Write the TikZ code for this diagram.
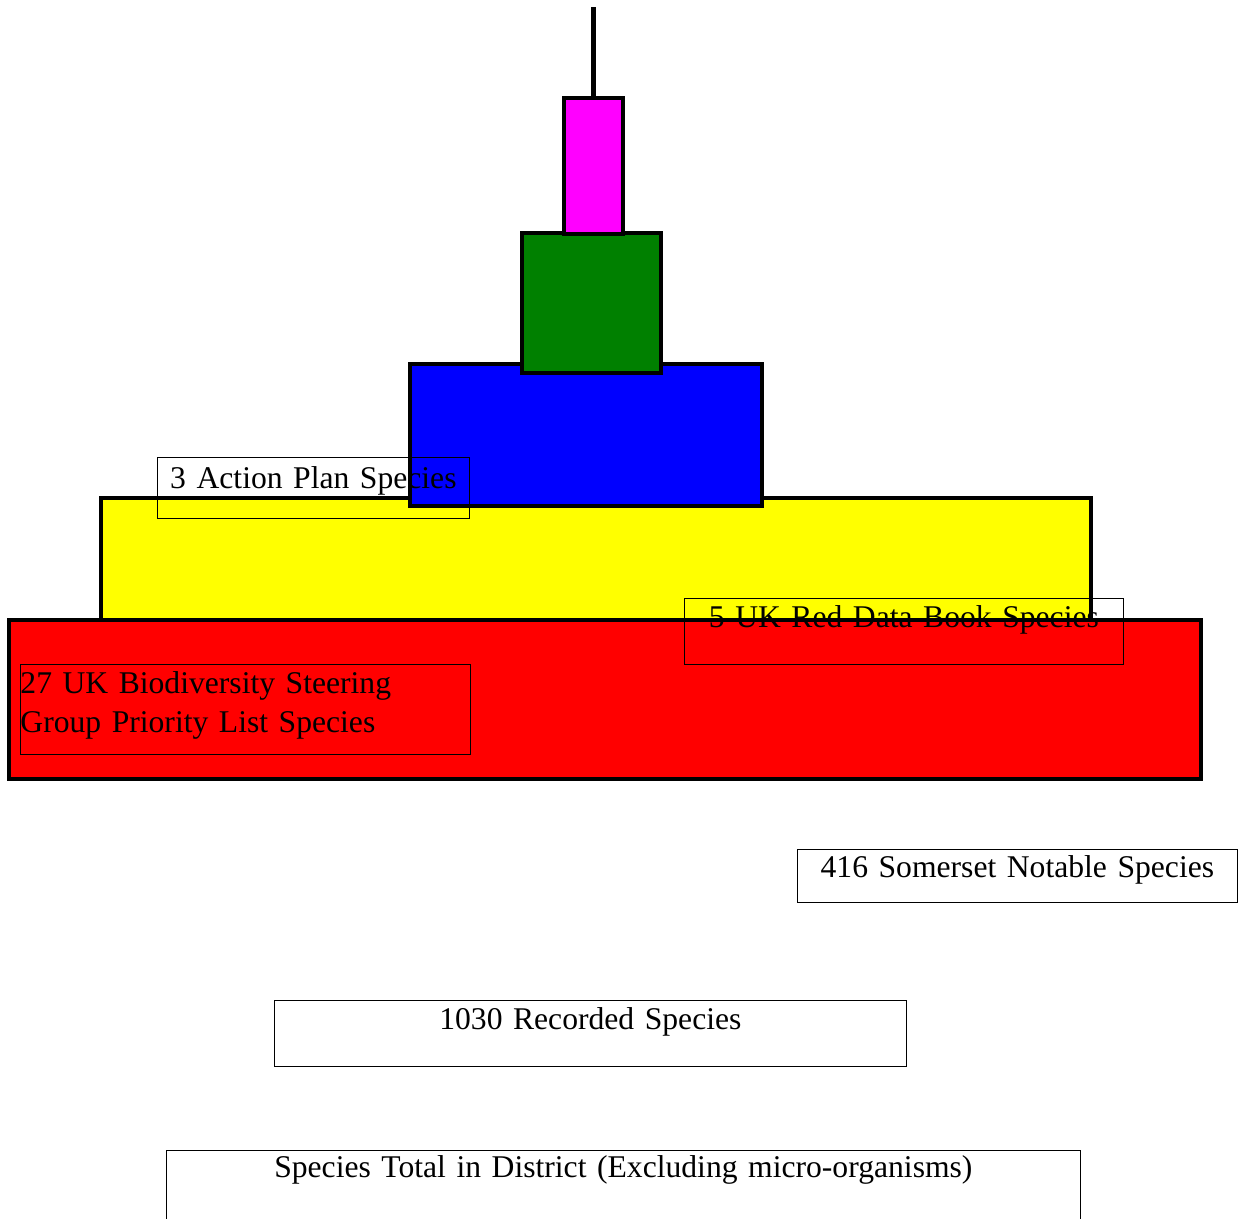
\documentclass[tikz,border=0pt]{standalone}
\usepackage{fontspec}
\setmainfont{Liberation Serif}
\usepackage{tikz}
\usetikzlibrary{positioning}

\definecolor{tiermagenta}{RGB}{255,0,255}
\definecolor{tiergreen}{RGB}{0,128,0}
\definecolor{tierblue}{RGB}{0,0,255}
\definecolor{tieryellow}{RGB}{255,255,0}
\definecolor{tierred}{RGB}{255,0,0}

\tikzset{
  tier/.style={draw, line width=2.3pt, inner sep=0pt},
  lbl/.style={draw, line width=0.5pt, inner sep=0pt, anchor=north west,
    font=\fontsize{18}{22}\selectfont}
}

\begin{document}
\begin{tikzpicture}[x=0.02cm, y=-0.02cm]
            \useasboundingbox (0,0) rectangle (1240,1218);

            \draw (596,559)   node[tier, fill=tieryellow, minimum width=19.8cm, minimum height=2.44cm]   (yel) {};
            \draw (605,699.5) node[tier, fill=tierred, minimum width=23.84cm, minimum height=3.18cm]     (rd) {};
            \draw (586,435)   node[tier, fill=tierblue, minimum width=7.04cm, minimum height=2.84cm]     (bl) {};
            \draw (591.5,303) node[tier, fill=tiergreen, minimum width=2.78cm, minimum height=2.8cm]     (gr) {};
            \draw (593.5,166) node[tier, fill=tiermagenta, minimum width=1.18cm, minimum height=2.72cm]  (apex) {};
            \coordinate (tip) at (593.5,7);
            \draw[line width=2.3pt] (apex.north) -- (tip);

            \draw (157,457)  node[lbl, text width=6.24cm, text height=0.62cm, text depth=0.6cm, align=center]   (ap) {3 Action Plan Species};
            \draw (684,598)  node[lbl, text width=8.78cm, text height=0.58cm, text depth=0.74cm, align=center]  (rdb) {5 UK Red Data Book Species};
            \draw (20,664)   node[lbl, text width=9.0cm, text height=0.58cm, text depth=1.22cm, align=left]     (bsg) {27 UK Biodiversity Steering\\Group Priority List Species};
            \draw (797,849)  node[lbl, text width=8.8cm, text height=0.56cm, text depth=0.5cm, align=center]    (som) {416 Somerset Notable Species};
            \draw (274,1000) node[lbl, text width=12.64cm, text height=0.58cm, text depth=0.74cm, align=center] (rec) {1030 Recorded Species};
            \draw (166,1150) node[lbl, text width=18.28cm, text height=0.54cm, text depth=1.06cm, align=center] (tot) {Species Total in District (Excluding micro-organisms)};

            \end{tikzpicture}
\end{document}
